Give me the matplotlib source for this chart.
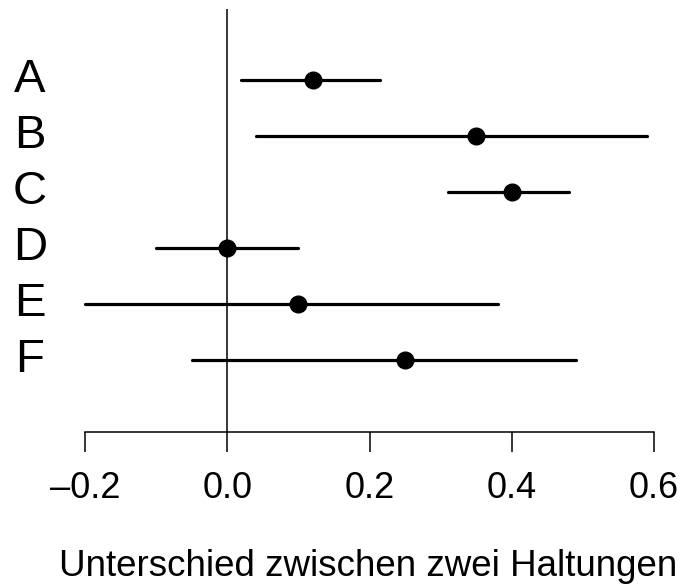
import matplotlib
matplotlib.use("Agg")
import matplotlib.pyplot as plt
import matplotlib.transforms as mtransforms

# Werte
labels = ["A", "B", "C", "D", "E", "F"]
estimate = [0.12, 0.35, 0.40, 0.00, 0.10, 0.25]
lower = [0.02, 0.04, 0.31, -0.10, -0.20, -0.05]
upper = [0.215, 0.59, 0.48, 0.10, 0.38, 0.49]
xticks = [-0.2, 0.0, 0.2, 0.4, 0.6]
xticklabels = ["\u20130.2", "0.0", "0.2", "0.4", "0.6"]
xlabel = "Unterschied zwischen zwei Haltungen"

plt.rcParams["font.family"] = ["Liberation Sans", "DejaVu Sans"]

W, H = 682, 584
fig = plt.figure(figsize=(W / 100, H / 100), dpi=100)
ax = fig.add_axes([85 / W, (H - 432) / H, (654 - 85) / W, (432 - 9) / H])

pos = list(range(len(labels)))
ax.set_xlim(-0.2, 0.6)
ax.set_ylim((432 - 80) / 56, (9 - 80) / 56)

ax.axvline(0, color="black", lw=1.1, zorder=1)
for y, lo, hi in zip(pos, lower, upper):
    ax.plot([lo, hi], [y, y], color="black", lw=2.3, solid_capstyle="round",
            clip_on=False, zorder=2)
ax.plot(estimate, pos, "o", color="black", ms=12, clip_on=False, zorder=3)

for s in ["top", "right", "left"]:
    ax.spines[s].set_visible(False)
ax.spines["bottom"].set_bounds(-0.2, 0.6)
ax.spines["bottom"].set_linewidth(1.1)
ax.set_yticks([])
ax.set_xticks(xticks)
ax.set_xticklabels(xticklabels, fontsize=26)
ax.tick_params(axis="x", length=14.4, width=1.1, pad=14)

trans = mtransforms.blended_transform_factory(fig.transFigure, ax.transData)
for y, lab in zip(pos, labels):
    ax.text(30 / W, y, lab, transform=trans, ha="center", va="center",
            fontsize=34, clip_on=False)

fig.text(368 / W, (H - 576) / H, xlabel, ha="center", va="baseline",
         fontsize=26.5)

fig.savefig("out.png", dpi=100)
